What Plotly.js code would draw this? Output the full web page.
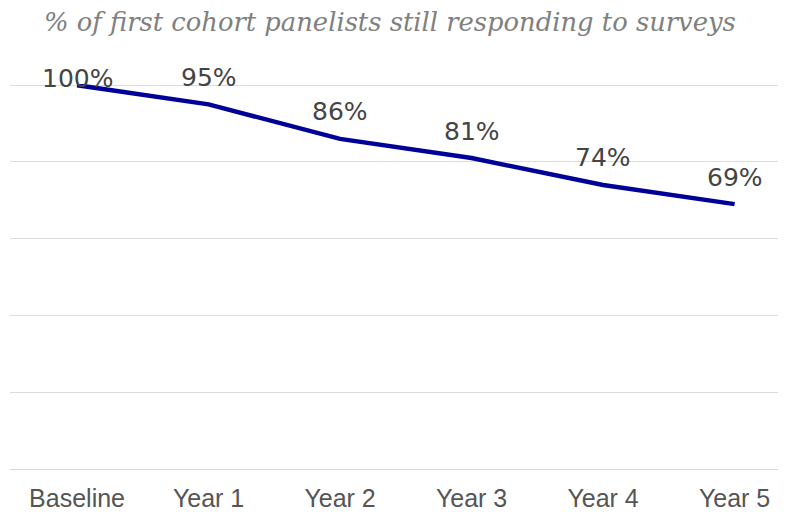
<!DOCTYPE html>
<html><head><meta charset="utf-8">
<script src="https://cdn.plot.ly/plotly-3.0.1.min.js"></script>
<style>html,body{margin:0;padding:0;background:#fff}#chart{width:792px;height:512px}</style>
</head><body><div id="chart"></div>
<script>
const categories = ["Baseline","Year 1","Year 2","Year 3","Year 4","Year 5"];
const values = [100, 95, 86, 81, 74, 69];
const labels = ["100%","95%","86%","81%","74%","69%"];
const titleText = "% of first cohort panelists still responding to surveys";

const labelFont = {family: "DejaVu Sans, Verdana, sans-serif", size: 25, color: "#444444"};
const annotations = categories.map((c, i) => ({
  x: c, y: values[i], xref: "x", yref: "y", text: labels[i], showarrow: false,
  font: labelFont, yshift: values[i] >= 100 ? 7 : 27, xanchor: "center", yanchor: "middle"
}));
annotations.push({
  text: titleText, xref: "paper", yref: "paper", x: 0.042, y: 1, xanchor: "left", yanchor: "bottom",
  yshift: 45, showarrow: false,
  font: {family: "DejaVu Serif, Georgia, serif", size: 25.8, color: "#808080", style: "italic"}
});

const trace = {
  x: categories, y: values, type: "scatter", mode: "lines",
  line: {color: "#000099", width: 4.5}, cliponaxis: false, hoverinfo: "skip"
};

const layout = {
  width: 792, height: 512,
  margin: {l: 10, r: 14, t: 84, b: 43},
  paper_bgcolor: "#ffffff", plot_bgcolor: "#ffffff",
  showlegend: false,
  xaxis: {type: "category", range: [-0.51, 5.33], showgrid: false, zeroline: false, showline: false,
    ticks: "", tickfont: {family: "Liberation Sans, Arial, sans-serif", size: 25, color: "#555555"}, ticklabelstandoff: 12},
  yaxis: {range: [0, 100.3], dtick: 20, showgrid: true, gridcolor: "#dcdcdc", gridwidth: 1,
    zeroline: true, zerolinecolor: "#d6d6d6", zerolinewidth: 1, showticklabels: false, ticks: "", showline: false},
  annotations: annotations
};
Plotly.newPlot("chart", [trace], layout, {displayModeBar: false, staticPlot: true});
</script></body></html>
